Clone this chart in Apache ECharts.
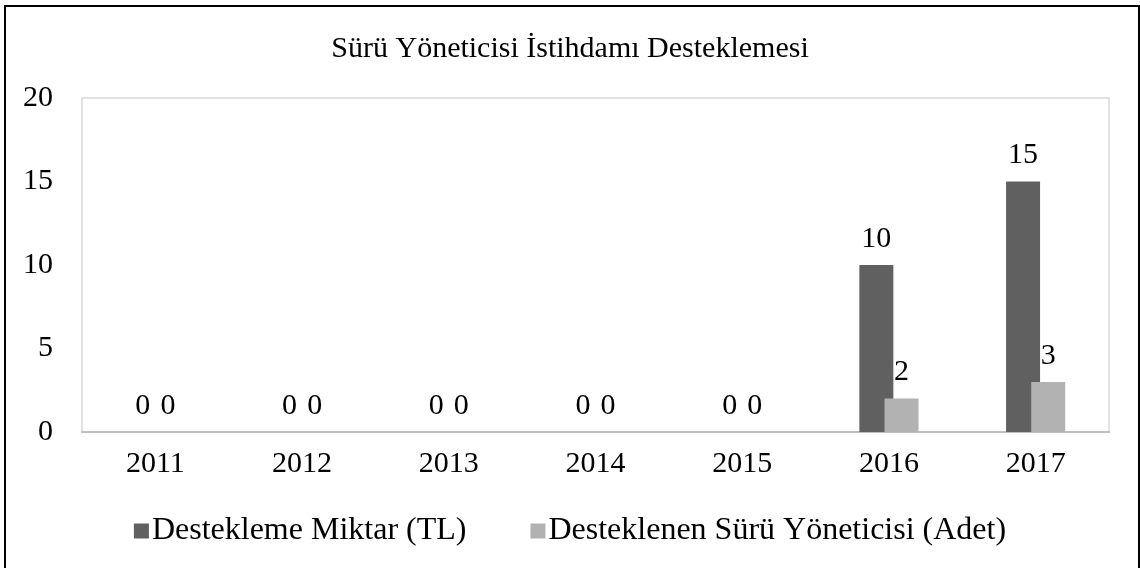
<!DOCTYPE html>
<html>
<head>
<meta charset="utf-8">
<script src="https://cdn.jsdelivr.net/npm/echarts@6/dist/echarts.min.js"></script>
<style>
  html, body { margin: 0; padding: 0; background: #fff; overflow: hidden; }
  #chart { position: absolute; left: 0; top: 0; width: 1140px; height: 568px; }
  #frame { position: absolute; left: 4px; top: 5px; width: 1132px; height: 580px; border: 2px solid #000; pointer-events: none; }
</style>
</head>
<body>
<div id="chart"></div>
<div id="frame"></div>
<script>
let years = ['2011', '2012', '2013', '2014', '2015', '2016', '2017']
let miktar = [0, 0, 0, 0, 0, 10, 15]
let adet = [0, 0, 0, 0, 0, 2, 3]
let seriesNames = ['Destekleme Miktar (TL)', 'Desteklenen Sürü Yöneticisi (Adet)']

let myChart = echarts.init(document.getElementById('chart'))
let font = '"Liberation Serif", "Times New Roman", serif'

// bar labels
let barLabel = {
  show: true,
  position: 'top',
  distance: 11,
  color: '#000',
  fontFamily: font,
  fontSize: 30
}

let option = {
  animation: false,
  textStyle: { fontFamily: font },
  title: {
    text: 'Sürü Yöneticisi İstihdamı Desteklemesi',
    left: 'center',
    top: 29,
    textStyle: { fontFamily: font, fontSize: 30, fontWeight: 'normal', color: '#000' }
  },
  legend: {
    data: seriesNames,
    top: 510,
    left: 'center',
    icon: 'rect',
    itemWidth: 15,
    itemHeight: 15,
    itemGap: 64,
    textStyle: { fontFamily: font, fontSize: 32, color: '#000', padding: [0, 0, 0, -2] }
  },
  grid: {
    show: true,
    left: 82,
    right: 31,
    top: 98,
    bottom: 136,
    borderColor: '#d9d9d9',
    borderWidth: 1.5
  },
  xAxis: {
    type: 'category',
    data: years,
    axisLine: { lineStyle: { color: '#bfbfbf', width: 2 } },
    axisTick: { show: false },
    axisLabel: { color: '#000', fontFamily: font, fontSize: 30, margin: 17 }
  },
  yAxis: {
    type: 'value',
    min: 0,
    max: 20,
    interval: 5,
    splitLine: { show: false },
    axisLine: { show: false },
    axisTick: { show: false },
    axisLabel: { color: '#000', fontFamily: font, fontSize: 30, margin: 29, padding: [0, 0, 10, 0] }
  },
  series: [
    {
      name: seriesNames[0],
      type: 'bar',
      data: miktar,
      barWidth: 34,
      barGap: '-26%',
      itemStyle: { color: '#606060' },
      label: barLabel
    },
    {
      name: seriesNames[1],
      type: 'bar',
      data: adet,
      barWidth: 34,
      itemStyle: { color: '#b2b2b2' },
      label: barLabel
    }
  ]
}
myChart.setOption(option)
</script>
</body>
</html>
